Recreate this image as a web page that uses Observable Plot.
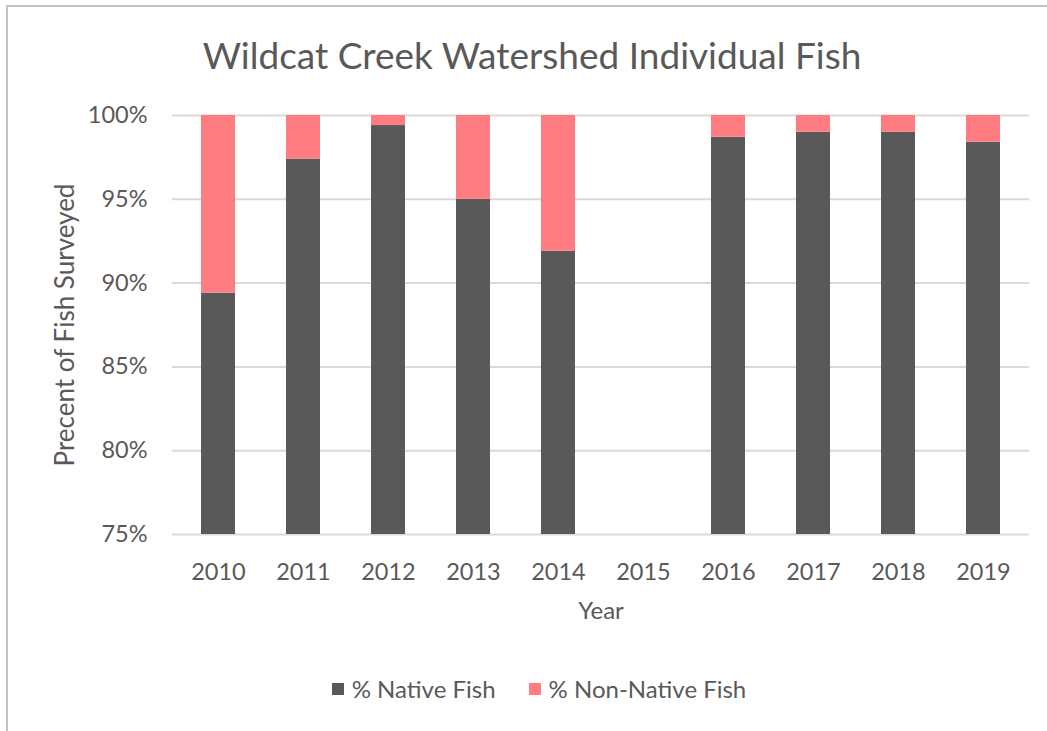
<!DOCTYPE html>
<html>
<head>
<meta charset="utf-8">
<script src="https://cdn.jsdelivr.net/npm/d3@7"></script>
<script src="https://cdn.jsdelivr.net/npm/@observablehq/plot@0.6"></script>
<style>
  body { margin: 0; background: #fff; font-family: Lato, "Open Sans", sans-serif; color: #595959; width: 1047px; height: 731px; overflow: hidden; position: relative; }
  #frame { position: absolute; left: 6px; top: 5px; width: 1100px; height: 800px; border-top: 2px solid #c4c4c4; border-left: 2px solid #c4c4c4; box-sizing: border-box; }
  #title { position: absolute; left: 0; top: 31px; width: 1064px; text-align: center; font-size: 37px; line-height: 48px; color: #595959; }
  #chart { position: absolute; left: 0; top: 90px; }
  #legend { position: absolute; left: 0; top: 674px; width: 1078px; display: flex; justify-content: center; gap: 33px; font-size: 24px; line-height: 30px; }
  .item { display: flex; align-items: center; gap: 8px; }
  .sw { width: 12px; height: 12px; display: inline-block; }
  g[aria-label="y-axis label"] text { font-size: 26px; }
  g[aria-label="x-axis label"] text { font-size: 24px; }
</style>
</head>
<body>
<div id="frame"></div>
<div id="title">Wildcat Creek Watershed Individual Fish</div>
<div id="chart"></div>
<div id="legend"></div>
<script>
const years = ["2010","2011","2012","2013","2014","2015","2016","2017","2018","2019"];
const surveyYears = ["2010","2011","2012","2013","2014","2016","2017","2018","2019"];
const nativePct = [89.4, 97.4, 99.4, 95.0, 91.9, 98.7, 99.0, 99.0, 98.4];
const nonNativePct = [10.6, 2.6, 0.6, 5.0, 8.1, 1.3, 1.0, 1.0, 1.6];
const seriesNames = ["% Native Fish", "% Non-Native Fish"];
const seriesColors = ["#595959", "#FF7C80"];
const yTicks = [75, 80, 85, 90, 95, 100];

const rows = [];
surveyYears.forEach((yr, i) => {
  rows.push({year: yr, series: seriesNames[0], value: nativePct[i]});
  rows.push({year: yr, series: seriesNames[1], value: nonNativePct[i]});
});

const chart = Plot.plot({
  width: 1047,
  height: 544,
  marginLeft: 172,
  marginRight: 18,
  marginTop: 25,
  marginBottom: 100,
  style: {fontFamily: "Lato, 'Open Sans', sans-serif", color: "#595959", background: "transparent"},
  x: {domain: years, paddingInner: 0.6, paddingOuter: 0.3},
  y: {domain: [75, 100]},
  color: {domain: seriesNames, range: seriesColors},
  marks: [
    Plot.gridY(yTicks, {stroke: "#d9d9d9", strokeOpacity: 1, strokeWidth: 2}),
    Plot.barY(rows, {x: "year", y: "value", fill: "series", clip: true}),
    Plot.axisY(yTicks, {tickSize: 0, tickPadding: 25, fontSize: 23.5, tickFormat: d => d + "%",
      label: "Precent of Fish Surveyed", labelAnchor: "center", labelArrow: "none", labelOffset: 117}),
    Plot.axisX({tickSize: 0, tickPadding: 29, fontSize: 23.5, label: "Year", labelAnchor: "center", labelArrow: "none", labelOffset: 84})
  ]
});
document.getElementById("chart").appendChild(chart);

const legend = document.getElementById("legend");
seriesNames.forEach((name, i) => {
  const item = document.createElement("div");
  item.className = "item";
  const sw = document.createElement("span");
  sw.className = "sw";
  sw.style.background = seriesColors[i];
  const t = document.createElement("span");
  t.textContent = name;
  item.appendChild(sw);
  item.appendChild(t);
  legend.appendChild(item);
});
</script>
</body>
</html>
